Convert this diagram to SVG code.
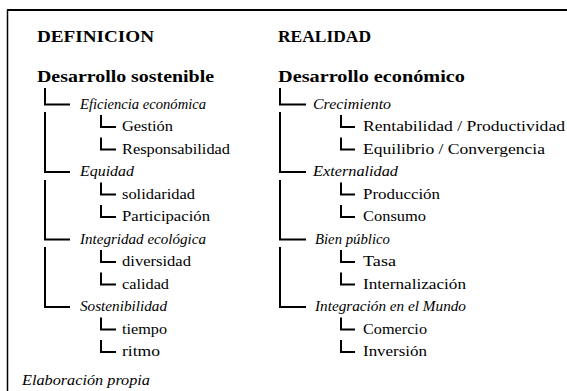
<svg xmlns="http://www.w3.org/2000/svg" width="567" height="391" viewBox="0 0 567 391" font-family="'Liberation Serif', 'DejaVu Serif', serif">
<style>
.h{font-weight:bold;font-size:17px}
.t{font-weight:bold;font-size:16.5px}
.i{font-style:italic;font-size:14.5px}
.n{font-size:14.5px}
.c{fill:none;stroke:#000;stroke-width:2}
.b{fill:none;stroke:#000}
</style>
<rect width="567" height="391" fill="#fff"/>
<g id="frame">
<line class="b" x1="7" y1="10" x2="567" y2="10" stroke-width="2"/>
<line class="b" x1="7.5" y1="10" x2="7.5" y2="391" stroke-width="1.5"/>
</g>
<g id="connectors">
<path class="c" d="M45 88V104.5H70M45 112V172H70M45 180V239.5H70M45 247V307H70"/>
<path class="c" d="M101 115V127H116M101 137.5V149.5H116M101 182.5V194.5H116M101 205V217H116M101 250V262H116M101 272.5V284.5H116M101 317.5V329.5H116M101 340V352H116"/>
<path class="c" d="M280 88V104.5H306M280 112V172H306M280 180V239.5H306M280 247V307H306"/>
<path class="c" d="M341 115V127H355M341 137.5V149.5H355M341 182.5V194.5H355M341 205V217H355M341 250V262H355M341 272.5V284.5H355M341 317.5V329.5H355M341 340V352H355"/>
</g>
<g font-family="Liberation Serif, serif" fill="#000">
<g id="def-head"><text class="h" x="37" y="41.5" textLength="117" lengthAdjust="spacingAndGlyphs">DEFINICION</text></g>
<g id="real-head"><text class="h" x="278" y="41.5" textLength="93" lengthAdjust="spacingAndGlyphs">REALIDAD</text></g>
<g id="des-sost"><text class="t" x="37" y="81.5" textLength="177" lengthAdjust="spacingAndGlyphs">Desarrollo sostenible</text></g>
<g id="des-econ"><text class="t" x="278" y="81.5" textLength="187" lengthAdjust="spacingAndGlyphs">Desarrollo económico</text></g>
<g id="eficiencia"><text class="i" x="80" y="108.5" textLength="126" lengthAdjust="spacingAndGlyphs">Eficiencia económica</text></g>
<g id="gestion"><text class="n" x="122" y="131" textLength="51" lengthAdjust="spacingAndGlyphs">Gestión</text></g>
<g id="responsabilidad"><text class="n" x="122" y="153.5" textLength="108" lengthAdjust="spacingAndGlyphs">Responsabilidad</text></g>
<g id="equidad"><text class="i" x="80" y="176" textLength="54" lengthAdjust="spacingAndGlyphs">Equidad</text></g>
<g id="solidaridad"><text class="n" x="122" y="198.5" textLength="73" lengthAdjust="spacingAndGlyphs">solidaridad</text></g>
<g id="participacion"><text class="n" x="122" y="221" textLength="88" lengthAdjust="spacingAndGlyphs">Participación</text></g>
<g id="integridad"><text class="i" x="80" y="243.5" textLength="126" lengthAdjust="spacingAndGlyphs">Integridad ecológica</text></g>
<g id="diversidad"><text class="n" x="122" y="266" textLength="69" lengthAdjust="spacingAndGlyphs">diversidad</text></g>
<g id="calidad"><text class="n" x="122" y="288.5" textLength="47" lengthAdjust="spacingAndGlyphs">calidad</text></g>
<g id="sostenibilidad"><text class="i" x="80" y="311" textLength="87" lengthAdjust="spacingAndGlyphs">Sostenibilidad</text></g>
<g id="tiempo"><text class="n" x="122" y="333.5" textLength="45" lengthAdjust="spacingAndGlyphs">tiempo</text></g>
<g id="ritmo"><text class="n" x="122" y="356" textLength="38" lengthAdjust="spacingAndGlyphs">ritmo</text></g>
<g id="crecimiento"><text class="i" x="313" y="108.5" textLength="78" lengthAdjust="spacingAndGlyphs">Crecimiento</text></g>
<g id="rentabilidad"><text class="n" x="363" y="131" textLength="202" lengthAdjust="spacingAndGlyphs">Rentabilidad / Productividad</text></g>
<g id="equilibrio"><text class="n" x="363" y="153.5" textLength="182" lengthAdjust="spacingAndGlyphs">Equilibrio / Convergencia</text></g>
<g id="externalidad"><text class="i" x="313" y="176" textLength="85" lengthAdjust="spacingAndGlyphs">Externalidad</text></g>
<g id="produccion"><text class="n" x="363" y="198.5" textLength="77" lengthAdjust="spacingAndGlyphs">Producción</text></g>
<g id="consumo"><text class="n" x="363" y="221" textLength="63" lengthAdjust="spacingAndGlyphs">Consumo</text></g>
<g id="bien-publico"><text class="i" x="315" y="243.5" textLength="75" lengthAdjust="spacingAndGlyphs">Bien público</text></g>
<g id="tasa"><text class="n" x="363" y="266" textLength="33" lengthAdjust="spacingAndGlyphs">Tasa</text></g>
<g id="internalizacion"><text class="n" x="363" y="288.5" textLength="103" lengthAdjust="spacingAndGlyphs">Internalización</text></g>
<g id="integracion"><text class="i" x="315" y="311" textLength="151" lengthAdjust="spacingAndGlyphs">Integración en el Mundo</text></g>
<g id="comercio"><text class="n" x="363" y="333.5" textLength="64" lengthAdjust="spacingAndGlyphs">Comercio</text></g>
<g id="inversion"><text class="n" x="363" y="356" textLength="64" lengthAdjust="spacingAndGlyphs">Inversión</text></g>
<g id="fuente"><text class="i" x="22" y="385" textLength="128" lengthAdjust="spacingAndGlyphs">Elaboración propia</text></g>
</g>
</svg>
